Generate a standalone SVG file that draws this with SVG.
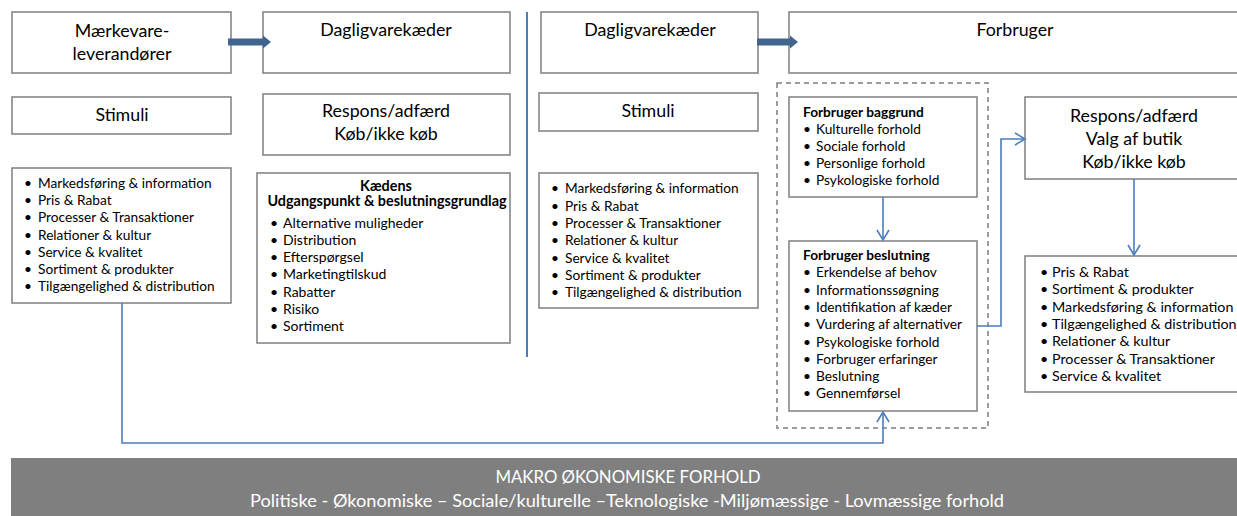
<svg xmlns="http://www.w3.org/2000/svg" width="1237" height="516" viewBox="0 0 1237 516">
<defs>
<style>
.box{fill:#fff;stroke:#7f7f7f;stroke-width:1.5}
.dash{fill:none;stroke:#7f7f7f;stroke-width:1.5;stroke-dasharray:5 4}
.t{font-family:Lato,"Liberation Sans",sans-serif;fill:#000}
.h{font-size:17.8px;text-anchor:middle}
.l{font-size:13.7px}
.k{font-size:14px}
.kb{font-size:14.4px;font-weight:bold;text-anchor:middle}
.rr{font-size:14.3px}
.b{font-weight:bold}
.con{fill:none;stroke:#4a7ebb;stroke-width:1.6}
.thick{fill:#41648f}
.ban{font-family:Lato,"Liberation Sans",sans-serif;fill:#fff;text-anchor:middle}
</style>
<marker id="ah" markerUnits="userSpaceOnUse" markerWidth="14" markerHeight="14" refX="11" refY="7" orient="auto" viewBox="0 0 14 14">
<path d="M1,1 L11,7 L1,13" fill="none" stroke="#4a7ebb" stroke-width="1.6"/>
</marker>
</defs>
<rect width="1237" height="516" fill="#fff"/>

<g id="divider"><line x1="527" y1="12" x2="527" y2="357" stroke="#4a7ebb" stroke-width="2"/></g>

<g id="n-maerkevare"><rect class="box" x="12" y="12" width="219" height="61"/>
<text class="t h" x="122" y="37">Mærkevare-</text><text class="t h" x="122" y="60">leverandører</text></g>

<g id="n-dagligvare-l"><rect class="box" x="263" y="12" width="247" height="61"/>
<text class="t h" x="386" y="36">Dagligvarekæder</text></g>

<g id="n-stimuli-l"><rect class="box" x="12" y="97" width="219" height="37"/>
<text class="t h" x="122" y="121">Stimuli</text></g>

<g id="n-respons-l"><rect class="box" x="263" y="94" width="247" height="61"/>
<text class="t h" x="386" y="117">Respons/adfærd</text><text class="t h" x="386" y="140">Køb/ikke køb</text></g>

<g id="n-list-l"><rect class="box" x="12" y="168" width="219" height="135"/>
<g class="t l">
<text x="24" y="188">•</text><text x="38" y="188">Markedsføring &amp; information</text>
<text x="24" y="205">•</text><text x="38" y="205">Pris &amp; Rabat</text>
<text x="24" y="222">•</text><text x="38" y="222">Processer &amp; Transaktioner</text>
<text x="24" y="239.5">•</text><text x="38" y="239.5">Relationer &amp; kultur</text>
<text x="24" y="256.5">•</text><text x="38" y="256.5">Service &amp; kvalitet</text>
<text x="24" y="274">•</text><text x="38" y="274">Sortiment &amp; produkter</text>
<text x="24" y="291">•</text><text x="38" y="291">Tilgængelighed &amp; distribution</text>
</g></g>

<g id="n-kaedens"><rect class="box" x="257" y="173" width="253" height="170"/>
<g class="t">
<text class="kb" x="386" y="191">Kædens</text>
<text class="kb" x="387" y="206">Udgangspunkt &amp; beslutningsgrundlag</text>
<g class="k">
<text x="270" y="228">•</text><text x="283" y="228">Alternative  muligheder</text>
<text x="270" y="245">•</text><text x="283" y="245">Distribution</text>
<text x="270" y="262">•</text><text x="283" y="262">Efterspørgsel</text>
<text x="270" y="279">•</text><text x="283" y="279">Marketingtilskud</text>
<text x="270" y="296.5">•</text><text x="283" y="296.5">Rabatter</text>
<text x="270" y="314">•</text><text x="283" y="314">Risiko</text>
<text x="270" y="331">•</text><text x="283" y="331">Sortiment</text>
</g></g></g>

<g id="n-dagligvare-r"><rect class="box" x="541" y="12" width="217" height="61"/>
<text class="t h" x="650" y="36">Dagligvarekæder</text></g>

<g id="n-forbruger"><rect class="box" x="789" y="12" width="452" height="61"/>
<text class="t h" x="1015" y="36">Forbruger</text></g>

<g id="n-stimuli-r"><rect class="box" x="539" y="93" width="219" height="38"/>
<text class="t h" x="648" y="117">Stimuli</text></g>

<g id="n-list-r"><rect class="box" x="539" y="173" width="219" height="135"/>
<g class="t l">
<text x="551" y="193">•</text><text x="565" y="193">Markedsføring &amp; information</text>
<text x="551" y="211">•</text><text x="565" y="211">Pris &amp; Rabat</text>
<text x="551" y="228">•</text><text x="565" y="228">Processer &amp; Transaktioner</text>
<text x="551" y="245">•</text><text x="565" y="245">Relationer &amp; kultur</text>
<text x="551" y="262.5">•</text><text x="565" y="262.5">Service &amp; kvalitet</text>
<text x="551" y="280">•</text><text x="565" y="280">Sortiment &amp; produkter</text>
<text x="551" y="297">•</text><text x="565" y="297">Tilgængelighed &amp; distribution</text>
</g></g>

<g id="n-dashed"><rect class="dash" x="777" y="83" width="211" height="345"/></g>

<g id="n-baggrund"><rect class="box" x="789" y="97" width="188" height="100"/>
<g class="t l">
<text class="b" x="803" y="117">Forbruger baggrund</text>
<text x="803" y="134">•</text><text x="816" y="134">Kulturelle forhold</text>
<text x="803" y="151">•</text><text x="816" y="151">Sociale forhold</text>
<text x="803" y="168">•</text><text x="816" y="168">Personlige forhold</text>
<text x="803" y="185">•</text><text x="816" y="185">Psykologiske forhold</text>
</g></g>

<g id="n-beslutning"><rect class="box" x="789" y="241" width="188" height="170"/>
<g class="t l">
<text class="b" x="803" y="260">Forbruger beslutning</text>
<text x="803" y="277">•</text><text x="816" y="277">Erkendelse af behov</text>
<text x="803" y="295">•</text><text x="816" y="295">Informationssøgning</text>
<text x="803" y="312">•</text><text x="816" y="312">Identifikation af kæder</text>
<text x="803" y="329">•</text><text x="816" y="329">Vurdering af alternativer</text>
<text x="803" y="346.5">•</text><text x="816" y="346.5">Psykologiske forhold</text>
<text x="803" y="364">•</text><text x="816" y="364">Forbruger erfaringer</text>
<text x="803" y="381">•</text><text x="816" y="381">Beslutning</text>
<text x="803" y="398">•</text><text x="816" y="398">Gennemførsel</text>
</g></g>

<g id="n-respons-r"><rect class="box" x="1025" y="97" width="216" height="82"/>
<text class="t h" x="1134" y="122">Respons/adfærd</text>
<text class="t h" x="1134" y="145">Valg af butik</text>
<text class="t h" x="1134" y="168">Køb/ikke køb</text></g>

<g id="n-list-rr"><rect class="box" x="1025" y="256" width="216" height="136"/>
<g class="t rr">
<text x="1040" y="277">•</text><text x="1052" y="277">Pris &amp; Rabat</text>
<text x="1040" y="294">•</text><text x="1052" y="294">Sortiment &amp; produkter</text>
<text x="1040" y="311.5">•</text><text x="1052" y="311.5">Markedsføring &amp; information</text>
<text x="1040" y="329">•</text><text x="1052" y="329">Tilgængelighed &amp; distribution</text>
<text x="1040" y="346">•</text><text x="1052" y="346">Relationer &amp; kultur</text>
<text x="1040" y="363.5">•</text><text x="1052" y="363.5">Processer &amp; Transaktioner</text>
<text x="1040" y="381">•</text><text x="1052" y="381">Service &amp; kvalitet</text>
</g></g>

<g id="n-makro"><rect x="11" y="458" width="1230" height="60" fill="#7f7f7f"/>
<text class="ban" x="628" y="483" font-size="16.8">MAKRO ØKONOMISKE FORHOLD</text>
<text class="ban" x="627" y="507" font-size="18.2">Politiske - Økonomiske – Sociale/kulturelle –Teknologiske -Miljømæssige - Lovmæssige forhold</text></g>

<g id="connectors">
<polygon class="thick" points="228,38.5 263,38.5 263,35.5 271,42 263,48.5 263,45.5 228,45.5"/>
<polygon class="thick" points="757,38.5 790,38.5 790,35.5 798,42 790,48.5 790,45.5 757,45.5"/>
<polyline class="con" points="122,303 122,443 883,443 883,412" marker-end="url(#ah)"/>
<polyline class="con" points="883,197 883,240" marker-end="url(#ah)"/>
<polyline class="con" points="977,326 1001,326 1001,139 1025,139" marker-end="url(#ah)"/>
<polyline class="con" points="1134,179 1134,255" marker-end="url(#ah)"/>
</g>
</svg>
